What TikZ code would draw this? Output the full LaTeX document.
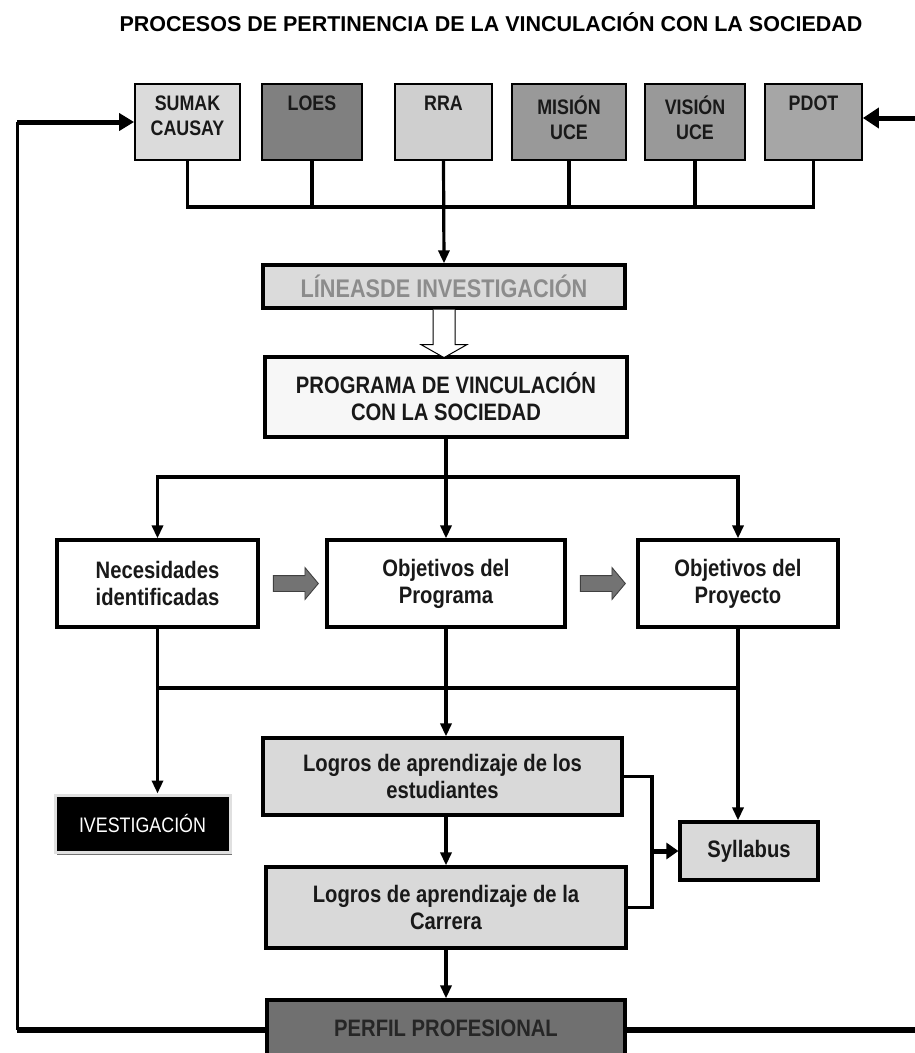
\documentclass[tikz,border=0pt]{standalone}
\usepackage{fontspec}
\setmainfont{Liberation Sans}
\newfontfamily\condfont{Liberation Sans}[FakeStretch=0.85]
\usetikzlibrary{arrows.meta,shapes.arrows,shadows,calc}

\tikzset{
  boxfont/.style={font=\condfont\bfseries\fontsize{23.8}{27}\selectfont},
  topbox/.style={draw, line width=1.8pt, minimum height=76pt, inner sep=0pt},
  toptext/.style={font=\condfont\bfseries\fontsize{21}{25}\selectfont, anchor=north, yshift=-13pt,
    align=center, inner sep=0pt, text=black!90},
  box/.style={draw, line width=3.2pt, align=center, inner sep=0pt, boxfont, text=black!90},
  line/.style={line width=3.2pt},
  arr/.style={line width=3.2pt, -{Triangle[length=13pt,width=11pt]}},
  greyarr/.style={single arrow, draw=black!75, fill=black!55, line width=0.9pt,
    inner sep=0pt, text height=15pt, text depth=0pt, minimum height=45pt,
    single arrow head extend=8pt, single arrow tip angle=100},
}

\begin{document}
\begin{tikzpicture}[x=1pt, y=-1pt]
  \useasboundingbox (0,0) rectangle (915,1053);

  \node[anchor=base] (title) at (491,31) {\bfseries\fontsize{21.5}{24}\selectfont PROCESOS DE PERTINENCIA DE LA VINCULACIÓN CON LA SOCIEDAD};

  % sources
  \node[topbox, fill=black!14, minimum width=105pt, label={[toptext]north:SUMAK\\CAUSAY}] (sumak) at (187.5,122) {};
  \node[topbox, fill=black!50, minimum width=100pt, label={[toptext]north:LOES}] (loes) at (312,122) {};
  \node[topbox, fill=black!19, minimum width=97pt, label={[toptext]north:RRA}] (rra) at (443.5,122) {};
  \node[topbox, fill=black!40, minimum width=114pt, label={[toptext]north:MISIÓN\\UCE}] (mision) at (569,122) {};
  \node[topbox, fill=black!40, minimum width=100pt, label={[toptext]north:VISIÓN\\UCE}] (vision) at (695,122) {};
  \node[topbox, fill=black!35, minimum width=97pt, label={[toptext]north:PDOT}] (pdot) at (813.5,122) {};

  \coordinate (bus) at (443.5,207);
  \draw[line] (sumak.south) -- (sumak.south |- bus) -- (pdot.south |- bus) -- (pdot.south);
  \foreach \n in {loes,mision,vision}
    \draw[line] (\n.south) -- (\n.south |- bus);

  \node[box, fill=black!14, text=black!45, minimum width=362pt, minimum height=43pt,
    font=\condfont\bfseries\fontsize{25.5}{27}\selectfont] (lineas) at (444,286.5) {LÍNEASDE INVESTIGACIÓN};
  \draw[arr] (rra.south) -- (lineas.north);

  \node[box, fill=black!3, minimum width=362pt, minimum height=80pt] (programa) at (446,397) {PROGRAMA DE VINCULACIÓN\\CON LA SOCIEDAD};

  % hollow arrow
  \draw[line width=1pt, fill=white, line join=miter]
    ($(lineas.south)+(-11,0)$) -- ++(0,35) -- ++(-12,0) -- ($(lineas.south)+(0,48)$)
    -- ($(lineas.south)+(23,35)$) -- ++(-12,0) -- ++(0,-35);

  % objetivos
  \node[box, fill=white, minimum width=201pt, minimum height=87pt] (neces) at (157.5,583.5) {Necesidades\\identificadas};
  \node[box, fill=white, minimum width=238pt, minimum height=87pt] (objprog) at (446,583.5) {Objetivos del\\Programa};
  \node[box, fill=white, minimum width=200pt, minimum height=87pt] (objproy) at (738,583.5) {Objetivos del\\Proyecto};
  \node[greyarr] (ga1) at (292.5,583.5) {};
  \node[greyarr] (ga2) at (599.5,583.5) {};

  \coordinate (branch) at (446,477);
  \draw[line] (programa.south) -- (branch);
  \draw[arr] (branch) -| (neces.north);
  \draw[arr] (branch) -| (objproy.north);
  \draw[arr] (branch) -- (objprog.north);

  % logros
  \node[box, fill=black!15, minimum width=359pt, minimum height=77pt] (logest) at (442.5,776.5) {Logros de aprendizaje de los\\estudiantes};
  \node[draw=black!12, fill=black, text=white, line width=3pt, minimum width=175pt, minimum height=57pt,
    font=\condfont\fontsize{21}{24}\selectfont,
    drop shadow={fill=black!55, shadow xshift=2pt, shadow yshift=-3pt, opacity=1}] (inv) at (142.5,823.5) {IVESTIGACIÓN};
  \node[box, fill=black!15, minimum width=138pt, minimum height=58pt] (syl) at (749,851) {Syllabus};
  \node[box, fill=black!15, minimum width=360pt, minimum height=81pt] (logcar) at (446,907.5) {Logros de aprendizaje de la\\Carrera};
  \node[box, fill=black!56, text=black!85, minimum width=358pt, minimum height=56pt] (perfil) at (446,1028) {PERFIL PROFESIONAL};

  \coordinate (merge) at (446,688);
  \draw[line] (merge -| neces.south) -- (merge -| objproy.south);
  \draw[arr] (neces.south) -- (neces.south |- inv.north);
  \draw[arr] (objprog.south) -- (objprog.south |- logest.north);
  \draw[arr] (objproy.south) -- (objproy.south |- syl.north);
  \draw[arr] (logcar.north |- logest.south) -- (logcar.north);
  \draw[arr] (logcar.south) -- (perfil.north);

  \coordinate (join) at (652,851);
  \draw[line] (logest.east) -| (join) |- (logcar.east);
  \draw[line width=5pt, -{Triangle[length=12pt,width=16pt]}] (join) -- (syl.west);

  % retroalimentacion
  \coordinate (lft) at (17,1030);
  \coordinate (rgt) at (915,1030);
  \coordinate (rin) at (915,118);
  \draw[line width=6pt] (perfil.west |- lft) -- (lft);
  \draw[line width=3pt] (lft) -- (lft |- sumak.west);
  \draw[line width=5pt, -{Triangle[length=15pt,width=17pt]}] (lft |- sumak.west) -- (sumak.west);
  \draw[line width=6pt] (perfil.east |- rgt) -- (rgt);
  \draw[line width=5pt, -{Triangle[length=16pt,width=20pt]}] (rin) -- (pdot.east |- rin);
\end{tikzpicture}
\end{document}
